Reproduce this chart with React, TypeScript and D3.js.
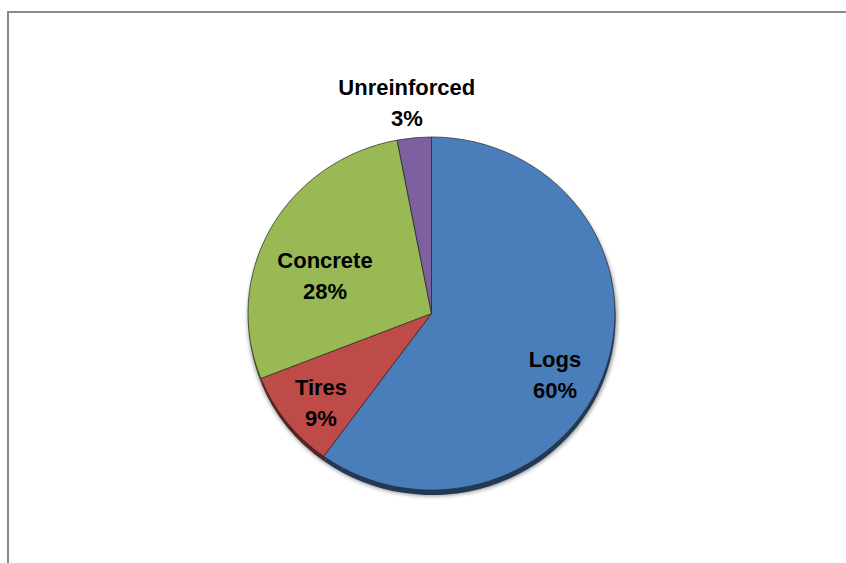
import { useEffect, useRef } from "react";
import * as d3 from "d3";

// Dados do gráfico
const CATEGORIAS = ["Logs", "Tires", "Concrete", "Unreinforced"];
const VALORES = [60, 9, 28, 3];

// Cores de cada fatia
const CORES: Record<string, string> = {
  Logs: "#4a7ebb",
  Tires: "#be4b48",
  Concrete: "#98b954",
  Unreinforced: "#7d60a0",
};

// Posição dos rótulos: fração do raio e ângulo (graus, a partir do topo)
const ROTULOS: Record<string, { r: number; a: number }> = {
  Logs: { r: 0.755, a: 117 },
  Tires: { r: 0.784, a: 230.2 },
  Concrete: { r: 0.62, a: 290.6 },
  Unreinforced: { r: 1.206, a: 353.6 },
};

const WIDTH = 846;
const HEIGHT = 563;

const App = () => {
  const svgRef = useRef<SVGSVGElement>(null);

  useEffect(() => {
    if (!svgRef.current) return;
    const svg = d3.select(svgRef.current);
    svg.selectAll("*").remove();

    const cx = 431.5;
    const cy = 313.5;
    const raio = 183.5;
    const sy = 0.962; // leve inclinação

    // Moldura
    svg.append("line")
      .attr("x1", 7).attr("x2", WIDTH)
      .attr("y1", 12).attr("y2", 12)
      .attr("stroke", "#8a8a8a").attr("stroke-width", 2);
    svg.append("line")
      .attr("x1", 8).attr("x2", 8)
      .attr("y1", 11).attr("y2", HEIGHT)
      .attr("stroke", "#8a8a8a").attr("stroke-width", 2);

    const dados = CATEGORIAS.map((c, i) => ({ cat: c, valor: VALORES[i] }));

    const pie = d3.pie<{ cat: string; valor: number }>()
      .value((d) => d.valor)
      .sort(null);
    const arcs = pie(dados);

    const arc = d3.arc<d3.PieArcDatum<{ cat: string; valor: number }>>()
      .innerRadius(0)
      .outerRadius(raio);

    // Sombra suave
    const defs = svg.append("defs");
    defs.append("filter")
      .attr("id", "blur")
      .attr("x", "-20%").attr("y", "-20%")
      .attr("width", "140%").attr("height", "140%")
      .append("feGaussianBlur")
      .attr("stdDeviation", 2);

    svg.append("ellipse")
      .attr("cx", cx + 1)
      .attr("cy", cy + 5)
      .attr("rx", raio + 1)
      .attr("ry", raio * sy + 1)
      .attr("fill", "#000")
      .attr("opacity", 0.45)
      .attr("filter", "url(#blur)");

    // Espessura (efeito 3D)
    const base = svg.append("g")
      .attr("transform", `translate(${cx + 0.5},${cy + 5}) scale(1,${sy})`);
    base.selectAll("path")
      .data(arcs)
      .enter()
      .append("path")
      .attr("d", arc)
      .attr("fill", (d) => d3.color(CORES[d.data.cat])!.darker(2.2).toString());

    // Fatias
    const g = svg.append("g")
      .attr("transform", `translate(${cx},${cy}) scale(1,${sy})`);
    g.selectAll("path")
      .data(arcs)
      .enter()
      .append("path")
      .attr("d", arc)
      .attr("fill", (d) => CORES[d.data.cat])
      .attr("stroke", "#2b2b2b")
      .attr("stroke-opacity", 0.7)
      .attr("stroke-width", 1)
      .attr("vector-effect", "non-scaling-stroke");

    // Rótulos
    const total = d3.sum(VALORES);
    arcs.forEach((d) => {
      const pos = ROTULOS[d.data.cat];
      const ang = (pos.a * Math.PI) / 180;
      const x = cx + pos.r * raio * Math.sin(ang);
      const y = cy - pos.r * raio * Math.cos(ang) * sy;
      const pct = Math.round((d.data.valor / total) * 100);
      const t = svg.append("text")
        .attr("text-anchor", "middle")
        .style("font-family", "'Liberation Sans', Arial, sans-serif")
        .style("font-weight", "700")
        .style("font-size", "22px")
        .attr("fill", "#000");
      t.append("tspan").attr("x", x).attr("y", y - 7).text(d.data.cat);
      t.append("tspan").attr("x", x).attr("y", y + 24).text(`${pct}%`);
    });
  }, []);

  return (
    <svg
      ref={svgRef}
      width={WIDTH}
      height={HEIGHT}
      style={{ position: "absolute", left: 0, top: 0, background: "#fff" }}
    />
  );
};

export default App;
